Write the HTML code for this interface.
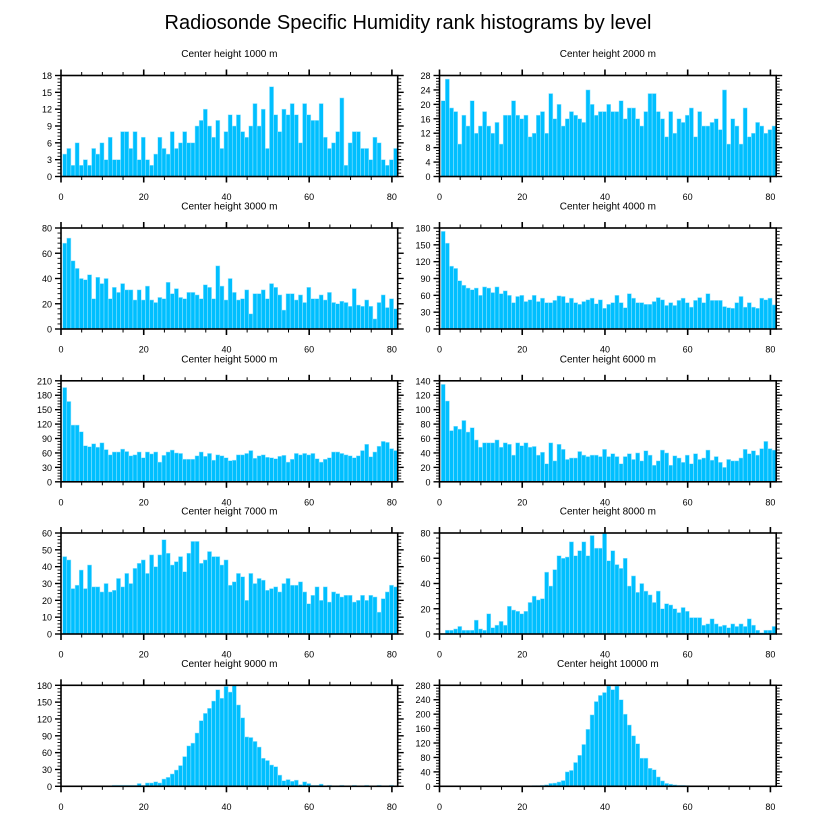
<!DOCTYPE html>
<html><head><meta charset="utf-8"><style>
body{margin:0;background:#fff;}
svg{display:block;font-family:"Liberation Sans",sans-serif;}
</style></head><body>
<svg id="chart" width="816" height="824" viewBox="0 0 816 824">
<text x="408" y="29" font-size="20" text-anchor="middle">Radiosonde Specific Humidity rank histograms by level</text>
</svg>
<script>
const titles = ["Center height 1000 m","Center height 2000 m","Center height 3000 m","Center height 4000 m","Center height 5000 m","Center height 6000 m","Center height 7000 m","Center height 8000 m","Center height 9000 m","Center height 10000 m"];
const yMax = [18,28,80,180,210,140,60,80,180,280];
const yStep = [3,4,20,30,30,20,10,20,30,40];
const xTicks = [0,20,40,60,80];
const h1000 = [4,5,2,6,2,3,2,5,4,6,3,7,3,3,8,8,5,8,3,7,3,2,4,7,5,4,8,5,6,8,6,6,9,10,12,9,7,10,5,8,11,9,11,8,7,9,13,9,12,5,16,11,8,12,11,13,11,6,13,11,10,10,13,7,5,6,8,14,2,6,8,8,5,5,3,7,6,3,2,3,5];
const h2000 = [21,27,19,18,9,17,14,21,12,14,18,14,12,15,9,17,17,21,17,16,17,11,12,17,18,12,23,16,20,14,16,18,17,16,15,24,20,17,18,18,20,18,18,21,16,19,19,16,14,18,23,23,18,16,11,18,12,16,15,17,19,11,18,14,14,15,16,13,24,9,16,14,9,19,11,12,15,14,12,13,14];
const h3000 = [68,72,54,48,40,39,43,24,41,36,40,24,33,29,36,31,31,23,31,23,34,23,21,25,24,37,28,32,25,24,29,29,27,24,35,33,24,50,34,23,40,29,23,24,31,12,28,28,31,24,36,33,27,15,28,28,23,27,21,33,24,24,27,23,29,21,20,22,21,18,32,19,18,23,18,8,21,27,17,24,16];
const h4000 = [174,153,112,108,86,78,73,70,73,60,75,73,65,75,63,68,60,47,58,60,49,52,60,49,55,47,47,51,59,58,47,55,47,44,49,52,55,45,52,37,44,47,60,47,38,63,55,47,47,44,44,49,56,52,42,47,42,51,55,47,39,51,56,47,63,51,51,51,40,38,37,47,58,39,47,39,37,55,52,55,43];
const h5000 = [196,167,118,118,104,75,73,79,72,81,67,56,62,62,68,63,54,56,62,50,62,58,62,41,55,62,66,60,59,47,47,47,54,62,53,59,45,56,54,50,44,45,56,56,59,65,49,54,56,51,50,48,53,55,41,47,59,56,59,56,59,48,41,47,50,62,62,59,56,54,50,54,65,78,52,62,74,84,82,69,65];
const h6000 = [135,112,71,77,73,85,69,75,58,48,54,54,54,58,48,54,52,37,54,50,54,48,49,37,41,25,54,29,52,45,31,33,33,42,37,35,37,37,35,45,35,39,35,25,35,39,31,40,29,43,37,23,29,44,40,23,36,33,27,37,25,39,31,33,44,30,35,27,20,31,29,29,33,45,39,43,37,46,56,46,44];
const h7000 = [46,44,27,29,38,27,41,28,28,25,30,25,26,33,28,36,30,39,42,44,36,47,40,47,56,48,41,43,46,37,48,55,55,42,44,49,46,46,41,44,29,31,36,34,20,36,30,33,32,26,27,28,25,30,33,29,29,31,25,18,23,28,20,28,19,25,24,22,23,23,19,20,23,20,23,22,13,21,25,29,28];
const h8000 = [0,3,3,4,6,3,3,3,11,4,3,16,5,7,10,7,22,19,18,16,18,25,30,27,28,49,38,51,62,60,61,73,62,66,73,62,78,68,68,80,58,66,55,52,60,38,46,33,40,34,31,25,34,20,24,23,20,17,21,18,13,13,13,7,8,12,8,6,7,5,8,6,8,6,12,7,3,1,3,3,6];
const h9000 = [0,0,0,0,0,0,0,0,0,0,1,1,2,2,2,2,2,2,5,2,6,6,8,6,13,16,22,29,37,53,72,77,95,117,130,139,152,172,157,178,168,180,145,122,88,87,80,70,50,46,38,35,20,10,12,9,11,3,8,5,2,2,4,1,2,1,1,2,1,1,2,1,1,2,1,1,2,1,1,2,1];
const h10000 = [0,0,0,0,0,0,0,0,0,0,0,0,0,0,0,0,0,0,0,0,0,1,2,2,3,4,8,9,12,16,40,44,66,86,116,158,198,235,252,260,278,268,278,240,200,170,140,118,78,78,50,46,26,15,8,6,4,3,3,2,1,1,1,1,1,1,1,1,1,1,1,1,1,1,1,1,1,1,1,1,1];
const series = [h1000,h2000,h3000,h4000,h5000,h6000,h7000,h8000,h9000,h10000];

const NS = "http://www.w3.org/2000/svg";
const svg = document.getElementById('chart');
function mk(tag, attrs, parent){const e=document.createElementNS(NS,tag);for(const k in attrs)e.setAttribute(k,attrs[k]);(parent||svg).appendChild(e);return e;}
const X0 = 81.4, PW = 336.7, PH = 101;
const lefts = [61, 439.5], tops = [75.5, 228, 380.8, 533, 685.3];

series.forEach((data, p) => {
  const L = lefts[p % 2], T = tops[Math.floor(p / 2)], B = T + PH;
  const xs = v => L + v / X0 * PW;
  const ys = v => B - v / yMax[p] * PH;
  const g = mk('g', {});
  
  
  const t = mk('text', {x: L + PW / 2, y: T - 18.5, 'font-size': 10, 'text-anchor': 'middle'}, g);
  t.textContent = titles[p];
  
  
  data.forEach((v, i) => {
    if (v <= 0) return;
    const r = mk('rect', {x: xs(i + 0.4), y: ys(v), width: xs(i + 1.4) - xs(i + 0.4), height: B - ys(v), fill: '#00bfff', stroke: '#9fe6ff', 'stroke-width': 0.5}, g);
    
    
  });
  for (let v = 0; v <= 80; v += 5) {
    const maj = v % 20 === 0, len = maj ? 6 : 3.5, x = xs(v);
    mk('line', {x1: x, x2: x, y1: B, y2: B + len, stroke: '#000', 'stroke-width': maj ? 1.6 : 1}, g);
    mk('line', {x1: x, x2: x, y1: T, y2: T - len, stroke: '#000', 'stroke-width': maj ? 1.6 : 1}, g);
  }
  xTicks.forEach(v => {
    const tl = mk('text', {x: xs(v), y: B + 23.5, 'font-size': 9, 'text-anchor': 'middle'}, g);
    tl.textContent = v;
    
    
  });
  const minor = yStep[p] / 5;
  for (let k = 0; k * minor <= yMax[p] + 1e-9; k++) {
    const v = k * minor, maj = k % 5 === 0, len = maj ? 6 : 3.5, y = ys(v);
    mk('line', {x1: L, x2: L - len, y1: y, y2: y, stroke: '#000', 'stroke-width': maj ? 1.4 : 0.9}, g);
    mk('line', {x1: L + PW, x2: L + PW + len, y1: y, y2: y, stroke: '#000', 'stroke-width': maj ? 1.4 : 0.9}, g);
    if (maj) {
      const yl = mk('text', {x: L - 9, y: y + 3.5, 'font-size': 9, 'text-anchor': 'end'}, g);
      yl.textContent = v;
      
      
    }
  }
  mk('rect', {x: L, y: T, width: PW, height: PH, fill: 'none', stroke: '#000', 'stroke-width': 1.6}, g);
});
</script>
</body></html>
